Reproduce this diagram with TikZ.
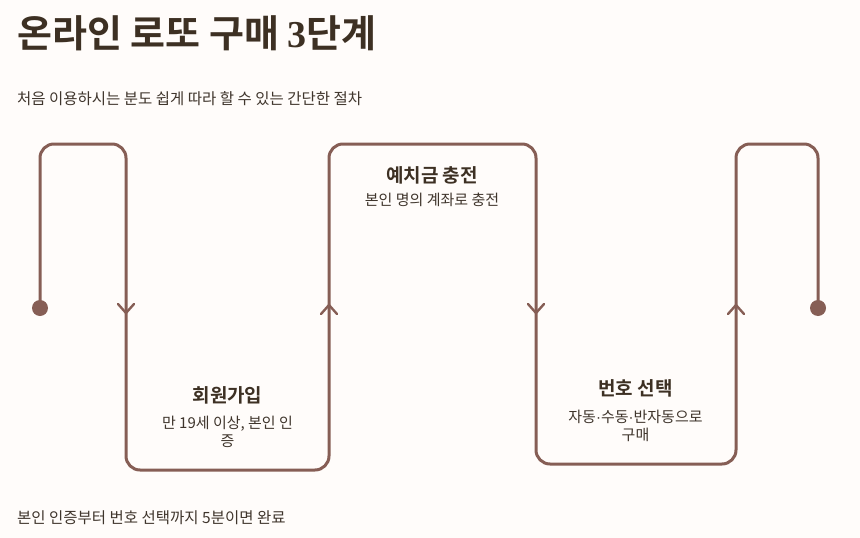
\documentclass[tikz,border=0pt]{standalone}
\usepackage{fontspec}
\setmainfont{Noto Sans CJK KR}[BoldFont={Noto Sans CJK KR Bold}]
\newfontfamily\digitserif{Liberation Serif}
\newfontfamily\latinsans{Liberation Sans}
\newcommand{\mdot}{{\latinsans ·}}
\definecolor{bgc}{HTML}{FFFCFA}
\definecolor{flowc}{HTML}{865E55}
\definecolor{titlec}{HTML}{3D3023}
\definecolor{textc}{HTML}{3F352C}
\tikzset{
  flow/.style={draw=flowc, line width=3pt, line cap=round, line join=round},
  chev/.style={draw=flowc, line width=2.4pt, line cap=round, line join=miter},
  steptitle/.style={text=titlec, font=\fontsize{19}{22}\selectfont\bfseries, inner sep=0pt},
  stepdesc/.style={text=textc, font=\fontsize{15}{17.5}\selectfont, inner sep=0pt, align=center},
  plaintext/.style={text=textc, font=\fontsize{15.5}{18}\selectfont, inner sep=0pt, anchor=west},
}
\begin{document}
\begin{tikzpicture}[x=1pt,y=-1pt]
\fill[bgc] (0,0) rectangle (860,538);
\useasboundingbox (0,0) rectangle (860,538);
% header
\node[anchor=west, inner sep=0pt, text=titlec, font=\fontsize{38}{42}\selectfont\bfseries] (title) at (17,33) {온라인 로또 구매 {\digitserif 3}단계};
\node[plaintext] (subtitle) at (17,99) {처음 이용하시는 분도 쉽게 따라 할 수 있는 간단한 절차};
\node[plaintext] (footer) at (17,518) {본인 인증부터 번호 선택까지 5분이면 완료};
% flow path
\coordinate (s) at (40,308);
\coordinate (a) at (40,144);
\coordinate (b) at (126,144);
\coordinate (c) at (126,470);
\coordinate (d) at (329,470);
\coordinate (e) at (329,144);
\coordinate (f) at (536,144);
\coordinate (g) at (536,464);
\coordinate (h) at (736,464);
\coordinate (i) at (736,144);
\coordinate (j) at (818,144);
\coordinate (t) at (818,308);
\draw[flow, rounded corners=14pt] (s) -- (a) -- (b) -- (c) -- (d) -- (e) -- (f) -- (g) -- (h) -- (i) -- (j) -- (t);
\fill[flowc] (s) circle (8);
\fill[flowc] (t) circle (8);
% chevrons
\coordinate (m1) at (126,313);
\coordinate (m2) at (329,305);
\coordinate (m3) at (536,313);
\coordinate (m4) at (736,305);
\draw[chev] (m1) ++(-8,-9) -- (m1) -- ++(8,-9);
\draw[chev] (m2) ++(-8,9) -- (m2) -- ++(8,9);
\draw[chev] (m3) ++(-8,-9) -- (m3) -- ++(8,-9);
\draw[chev] (m4) ++(-8,9) -- (m4) -- ++(8,9);
% step texts
\node[steptitle] (t1) at (227.5,395) {회원가입};
\node[stepdesc] (d1) at (227.5,432) {만 19세 이상, 본인 인\\증};
\node[steptitle] (t2) at (432,175) {예치금 충전};
\node[stepdesc] (d2) at (432,200) {본인 명의 계좌로 충전};
\node[steptitle] (t3) at (635.5,388) {번호 선택};
\node[stepdesc] (d3) at (635.5,426) {자동\mdot 수동\mdot 반자동으로\\구매};
\end{tikzpicture}
\end{document}
